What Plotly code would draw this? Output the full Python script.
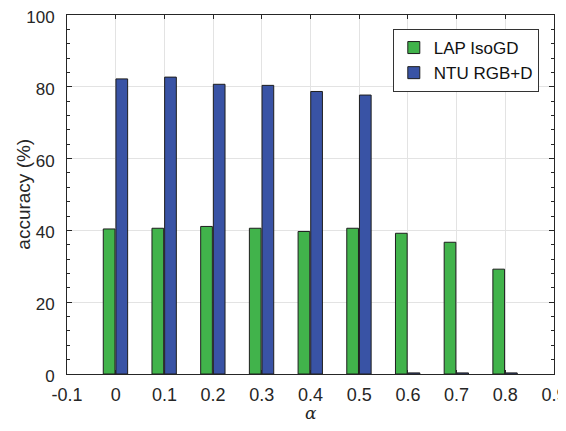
import plotly.graph_objects as go

alpha = [0, 0.1, 0.2, 0.3, 0.4, 0.5, 0.6, 0.7, 0.8]
lap_isogd = [40.4, 40.6, 41.1, 40.6, 39.7, 40.6, 39.2, 36.7, 29.2]
ntu_rgbd = [82.2, 82.7, 80.7, 80.4, 78.7, 77.7, 0.3, 0.3, 0.3]
x_ticks = [-0.1, 0, 0.1, 0.2, 0.3, 0.4, 0.5, 0.6, 0.7, 0.8, 0.9]
x_tick_labels = ["-0.1", "0", "0.1", "0.2", "0.3", "0.4", "0.5", "0.6", "0.7", "0.8", "0.9"]
y_ticks = [0, 20, 40, 60, 80, 100]

font_family = "Liberation Sans, Arial, Helvetica, sans-serif"
axis_color = "#262626"

fig = go.Figure()
fig.add_trace(go.Bar(
    x=alpha, y=lap_isogd, name="LAP IsoGD",
    width=0.024, offset=-0.0255,
    marker=dict(color="#41B34B", line=dict(color="#1e1e1e", width=1)),
))
fig.add_trace(go.Bar(
    x=alpha, y=ntu_rgbd, name="NTU RGB+D",
    width=0.024, offset=0.0005,
    marker=dict(color="#3953A5", line=dict(color="#1e1e1e", width=1)),
))

fig.update_layout(
    width=558, height=415,
    margin=dict(l=59, r=12, t=7, b=49),
    paper_bgcolor="white", plot_bgcolor="white",
    barmode="overlay",
    font=dict(family=font_family, size=18, color=axis_color),
    showlegend=True,
    legend=dict(
        x=0.669, y=0.961, xanchor="left", yanchor="top",
        bgcolor="white", bordercolor="#333333", borderwidth=1,
        font=dict(family=font_family, size=17, color="#111111"),
        itemwidth=30, tracegroupgap=0,
    ),
    xaxis=dict(
        range=[-0.1, 0.9], tickmode="array", tickvals=x_ticks, ticktext=x_tick_labels,
        showgrid=True, gridcolor="#e3e3e3", gridwidth=1,
        showline=True, linecolor=axis_color, linewidth=1, mirror="ticks",
        ticks="inside", ticklen=4, tickcolor=axis_color,
        zeroline=False, automargin=False, ticklabeloverflow="allow", ticklabelstandoff=4,
        tickfont=dict(size=18, color=axis_color),
    ),
    yaxis=dict(
        range=[0, 100], tickmode="array", tickvals=y_ticks,
        showgrid=True, gridcolor="#e3e3e3", gridwidth=1,
        showline=True, linecolor=axis_color, linewidth=1, mirror="ticks",
        ticks="inside", ticklen=5, tickcolor=axis_color,
        minor=dict(dtick=4, ticks="inside", ticklen=3, tickcolor=axis_color, showgrid=False),
        zeroline=False, automargin=False, ticklabelstandoff=8, ticklabelshift=2,
        ticklabeloverflow="allow",
        tickfont=dict(size=17, color=axis_color),
    ),
    annotations=[
        dict(text="accuracy (%)", xref="paper", yref="paper", x=-0.09, y=0.5,
             xanchor="center", yanchor="middle", textangle=-90, showarrow=False,
             font=dict(family=font_family, size=19, color=axis_color)),
        dict(text="<i>α</i>", xref="paper", yref="paper", x=0.5, y=-0.11,
             xanchor="center", yanchor="middle", showarrow=False,
             font=dict(family="DejaVu Serif, serif", size=17, color=axis_color)),
    ],
)

fig.write_html("out.html")
